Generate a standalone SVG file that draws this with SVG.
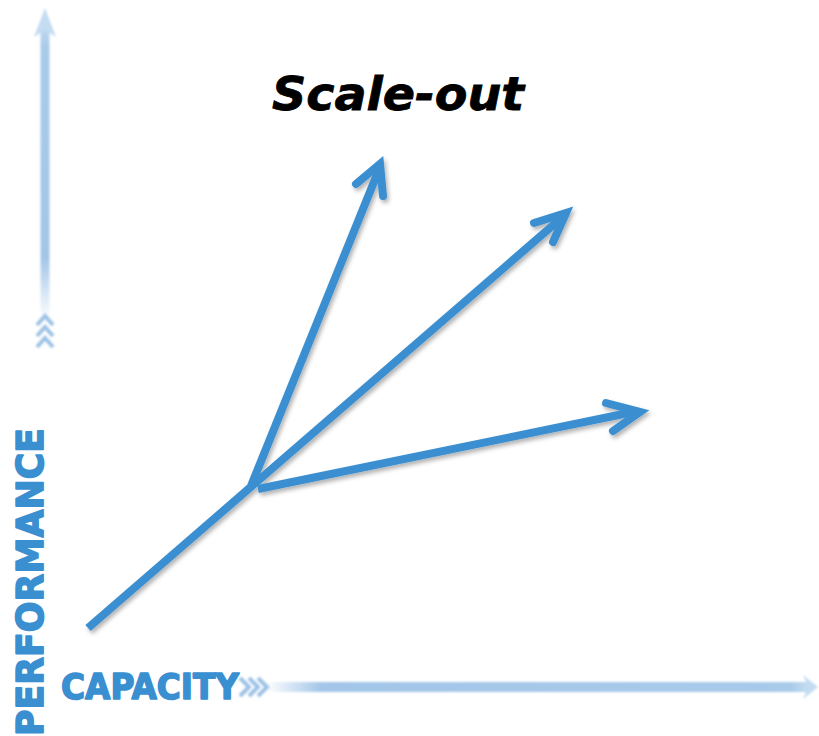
<svg xmlns="http://www.w3.org/2000/svg" width="819" height="736" viewBox="0 0 819 736">
  <defs>
    <filter id="shadow" x="-20%" y="-20%" width="140%" height="140%">
      <feDropShadow dx="2" dy="3" stdDeviation="2" flood-color="#000" flood-opacity="0.3"/>
    </filter>
    <filter id="soft" x="-20%" y="-20%" width="140%" height="140%">
      <feGaussianBlur stdDeviation="0.8"/>
    </filter>
    <linearGradient id="vgrad" x1="0" y1="10" x2="0" y2="320" gradientUnits="userSpaceOnUse">
      <stop offset="0" stop-color="#d2e6f7"/>
      <stop offset="0.12" stop-color="#a9cbea"/>
      <stop offset="0.8" stop-color="#a3c6e8"/>
      <stop offset="1" stop-color="#a3c6e8" stop-opacity="0"/>
    </linearGradient>
    <linearGradient id="hgrad" x1="266" y1="0" x2="818" y2="0" gradientUnits="userSpaceOnUse">
      <stop offset="0" stop-color="#a3c6e8" stop-opacity="0"/>
      <stop offset="0.1" stop-color="#a3c6e8"/>
      <stop offset="0.95" stop-color="#a9cbea"/>
      <stop offset="1" stop-color="#d2e6f7"/>
    </linearGradient>
    <style>
      .axisv { stroke: url(#vgrad); stroke-width: 9; fill: none; }
      .axish { stroke: url(#hgrad); stroke-width: 10; fill: none; }
      .chev { stroke: #9cc2e6; stroke-width: 4; fill: none; stroke-linejoin: miter; }
      .line { stroke: #3a8fd1; stroke-width: 8; fill: none; stroke-linecap: butt; }
      .head { stroke: #3a8fd1; stroke-width: 8; fill: none; stroke-linecap: round; stroke-linejoin: miter; stroke-miterlimit: 10; }
      .label { font-family: "DejaVu Sans", Verdana, sans-serif; font-weight: bold; fill: #3a8fd1; stroke: #3a8fd1; stroke-width: 1.6; stroke-linejoin: round; }
      .title { font-family: "DejaVu Sans", Verdana, sans-serif; font-weight: bold; font-style: italic; fill: #000; stroke: #000; stroke-width: 0.8; }
    </style>
  </defs>

  <g id="performance-axis" filter="url(#soft)">
    <line class="axisv" x1="45" y1="30" x2="45" y2="318"/>
    <path d="M45,8 L56,37 L45,30 L34,37 Z" fill="#c3dcf2"/>
    <polyline class="chev" points="37,325 45,316 53,325"/>
    <polyline class="chev" points="37,336 45,327 53,336"/>
    <polyline class="chev" points="37,347 45,338 53,347"/>
  </g>

  <g id="capacity-axis" filter="url(#soft)">
    <line class="axish" x1="268" y1="687" x2="808" y2="687"/>
    <path d="M818,687 L803,675 L808,687 L803,699 Z" fill="#c3dcf2"/>
    <polyline class="chev" points="240,678 249,687 240,696"/>
    <polyline class="chev" points="249,678 258,687 249,696"/>
    <polyline class="chev" points="258,678 267,687 258,696"/>
  </g>

  <g id="performance-label">
    <text class="label" transform="translate(43,736) rotate(-90)" font-size="37" textLength="308" lengthAdjust="spacingAndGlyphs">PERFORMANCE</text>
  </g>

  <g id="capacity-label">
    <text class="label" x="61" y="699" font-size="35" textLength="178" lengthAdjust="spacingAndGlyphs">CAPACITY</text>
  </g>

  <g id="title">
    <text class="title" x="272" y="110" font-size="47" textLength="252" lengthAdjust="spacingAndGlyphs">Scale-out</text>
  </g>

  <g id="connectors" filter="url(#shadow)">
    <line class="line" x1="88" y1="628" x2="566" y2="214"/>
    <polyline class="head" points="534,223 566,213 553,242"/>
    <line class="line" x1="251" y1="486" x2="380" y2="167"/>
    <polyline class="head" points="356,184 380,164 383,196"/>
    <line class="line" x1="258" y1="489" x2="638" y2="411"/>
    <polyline class="head" points="606,403 640,412 613,431"/>
  </g>
</svg>
